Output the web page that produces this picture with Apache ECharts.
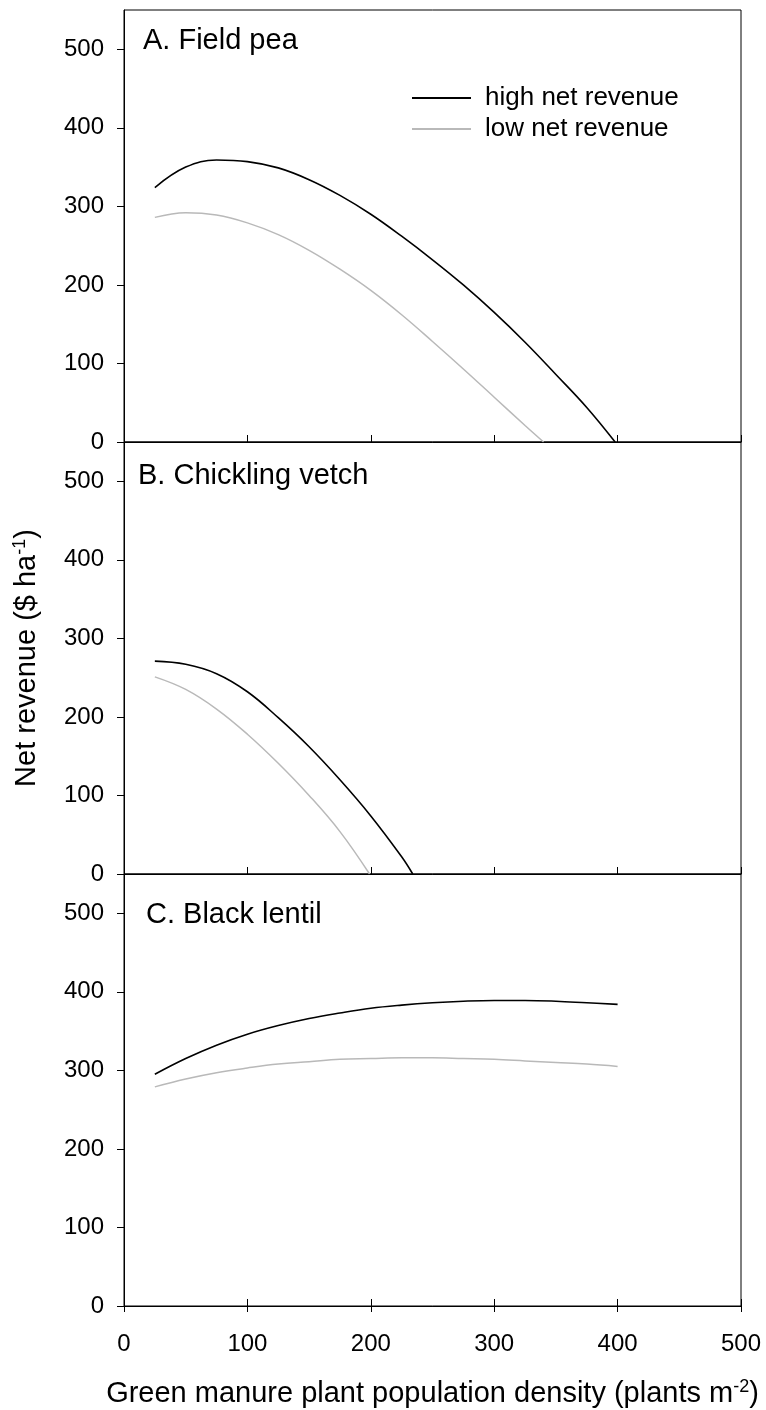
<!DOCTYPE html>
<html>
<head>
<meta charset="utf-8">
<script src="https://cdn.jsdelivr.net/npm/echarts@6/dist/echarts.min.js"></script>
<style>
  html, body { margin: 0; padding: 0; background: #fff; }
  #chart { width: 766px; height: 1410px; }
</style>
</head>
<body>
<div id="chart"></div>
<script>
// panel A - field pea
const peaHighX = [25, 50, 75, 100, 125, 150, 175, 200, 225, 250, 275, 300, 325, 350, 375, 398];
const peaHighY = [324, 350, 359, 357, 349, 334, 314, 290, 262, 232, 200, 165, 127, 86, 44, 0];
const peaLowX = [25, 50, 75, 100, 125, 150, 175, 200, 225, 250, 275, 300, 325, 340];
const peaLowY = [286, 292, 289, 279, 264, 244, 220, 193, 162, 128, 93, 57, 21, 0];

// panel B - chickling vetch
const vetchHighX = [25, 50, 75, 100, 125, 150, 175, 200, 225, 234];
const vetchHighY = [271, 267, 255, 232, 199, 162, 120, 74, 22, 0];
const vetchLowX = [25, 50, 75, 100, 125, 150, 175, 199];
const vetchLowY = [251, 235, 210, 178, 141, 100, 54, 0];

// panel C - black lentil
const lentilX = [25, 50, 75, 100, 125, 150, 175, 200, 225, 250, 275, 300, 325, 350, 375, 400];
const lentilHighY = [295, 315, 332, 346, 357, 366, 373, 379, 383, 386, 388, 389, 389, 388, 386, 384];
const lentilLowY = [279, 289, 297, 303, 308, 311, 314, 315, 316, 316, 315, 314, 312, 310, 308, 305];

const xTicks = [0, 100, 200, 300, 400, 500];
const yTicks = [0, 100, 200, 300, 400, 500];
const panelTitles = ['A. Field pea', 'B. Chickling vetch', 'C. Black lentil'];
const seriesNames = ['high net revenue', 'low net revenue'];

const FONT = '"Liberation Sans", Arial, sans-serif';
const HIGH_COLOR = '#000000';
const LOW_COLOR = '#b9b9b9';

const pairs = (xs, ys) => xs.map((x, i) => [x, ys[i]]);

const gridTops = [10, 442, 874];
const gridH = 432;

let grids = gridTops.map(t => ({
  left: 124, width: 617, top: t, height: gridH,
  show: true, borderColor: '#000', borderWidth: 1, containLabel: false
}));

function xAxisFor(gi, extra) {
  return Object.assign({
    type: 'value', gridIndex: gi, position: 'bottom', offset: 0,
    min: 0, max: 500, interval: 100,
    axisLine: { show: true, lineStyle: { color: '#000', width: 1 } },
    axisTick: { show: true, inside: true, length: 7, customValues: xTicks, lineStyle: { color: '#000' } },
    axisLabel: { show: false },
    splitLine: { show: false }
  }, extra || {});
}

const richName = {
  a: { fontSize: 29, fontFamily: FONT, color: '#000', lineHeight: 32 },
  s: { fontSize: 18, fontFamily: FONT, color: '#000', verticalAlign: 'top', lineHeight: 32 }
};

let xAxes = [
  xAxisFor(0),
  xAxisFor(1),
  xAxisFor(2),
  xAxisFor(2, {
    axisTick: { show: true, inside: false, length: 6, customValues: xTicks, lineStyle: { color: '#000' } },
    axisLabel: { show: true, customValues: xTicks, fontSize: 24, fontFamily: FONT, color: '#000', margin: 26 },
    name: '{a|Green manure plant population density (plants m}{s|-2}{a|)}',
    nameLocation: 'middle',
    nameGap: 72,
    nameTextStyle: { color: '#000', fontFamily: FONT, fontSize: 29, rich: richName }
  })
];

let yAxes = [0, 1, 2].map(gi => {
  let ax = {
    type: 'value', gridIndex: gi, position: 'left', offset: 0, min: 0, max: 550,
    axisLine: { show: true, lineStyle: { color: '#000', width: 1 } },
    axisTick: { show: true, inside: false, length: 7, customValues: yTicks, lineStyle: { color: '#000' } },
    axisLabel: { show: true, customValues: yTicks, fontSize: 24, fontFamily: FONT, color: '#000', margin: 20 },
    splitLine: { show: false }
  };
  if (gi === 1) {
    ax.name = '{a|Net revenue ($ ha}{s|-1}{a|)}';
    ax.nameLocation = 'middle';
    ax.nameGap = 81;
    ax.nameTextStyle = { color: '#000', fontFamily: FONT, fontSize: 29, rich: richName };
  }
  return ax;
});

function lineSeries(name, data, gi, color, width) {
  return {
    name: name, type: 'line', data: data,
    xAxisIndex: gi, yAxisIndex: gi,
    smooth: 0.4, symbol: 'none', animation: false,
    lineStyle: { color: color, width: width },
    itemStyle: { color: color }
  };
}

let series = [
  lineSeries(seriesNames[0], pairs(peaHighX, peaHighY), 0, HIGH_COLOR, 1.6),
  lineSeries(seriesNames[1], pairs(peaLowX, peaLowY), 0, LOW_COLOR, 1.5),
  lineSeries(seriesNames[0], pairs(vetchHighX, vetchHighY), 1, HIGH_COLOR, 1.6),
  lineSeries(seriesNames[1], pairs(vetchLowX, vetchLowY), 1, LOW_COLOR, 1.5),
  lineSeries(seriesNames[0], pairs(lentilX, lentilHighY), 2, HIGH_COLOR, 1.6),
  lineSeries(seriesNames[1], pairs(lentilX, lentilLowY), 2, LOW_COLOR, 1.5)
];

const titleTops = [26, 461, 900];
const titleLefts = [143, 138, 146];

let chart = echarts.init(document.getElementById('chart'), null, { renderer: 'canvas' });
chart.setOption({
  animation: false,
  backgroundColor: '#fff',
  grid: grids,
  xAxis: xAxes,
  yAxis: yAxes,
  series: series,
  legend: {
    data: seriesNames,
    orient: 'vertical',
    left: 411, top: 85, padding: 0,
    itemWidth: 59, itemHeight: 26, itemGap: 5,
    itemStyle: { opacity: 0 },
    textStyle: { fontSize: 26, fontFamily: FONT, color: '#000', padding: [0, 0, 0, 9] },
    selectedMode: false
  },
  graphic: panelTitles.map((t, i) => ({
    type: 'text', left: titleLefts[i], top: titleTops[i],
    style: { text: t, font: '29px ' + FONT, fill: '#000' }
  }))
});
</script>
</body>
</html>
